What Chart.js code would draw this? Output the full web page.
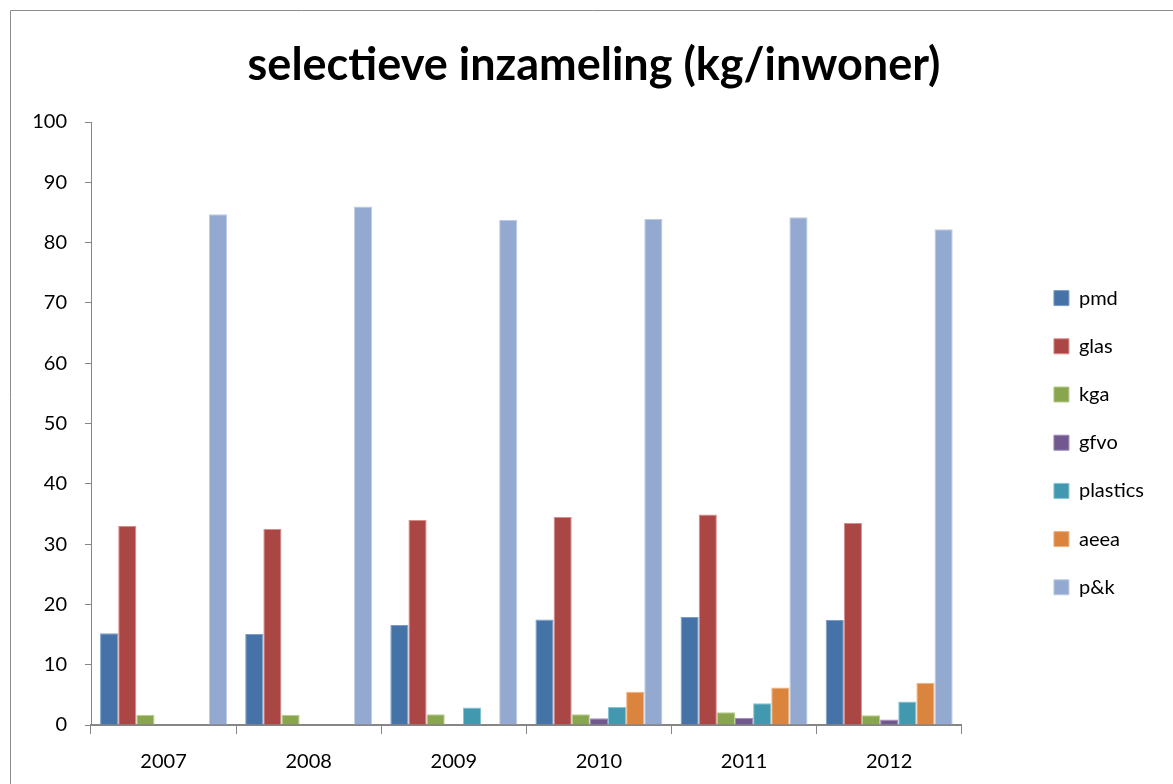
<!DOCTYPE html>
<html>
<head>
<meta charset="utf-8">
<title>selectieve inzameling</title>
<script src="https://cdn.jsdelivr.net/npm/chart.js@4"></script>
<style>
  html, body { margin: 0; padding: 0; background: #fff; }
  #wrap { width: 1173px; height: 784px; position: relative; }
</style>
</head>
<body>
<div id="wrap"><canvas id="chart"></canvas></div>
<script>
const years = ['2007', '2008', '2009', '2010', '2011', '2012'];
const pmd = [15.2, 15.1, 16.6, 17.5, 17.9, 17.4];
const glas = [33.0, 32.5, 34.0, 34.5, 34.9, 33.5];
const kga = [1.7, 1.7, 1.8, 1.8, 2.1, 1.6];
const gfvo = [null, null, null, 1.1, 1.2, 0.9];
const plastics = [null, null, 2.9, 3.0, 3.6, 3.9];
const aeea = [null, null, null, 5.5, 6.2, 7.0];
const pk = [84.7, 86.0, 83.8, 83.9, 84.2, 82.2];

const FONT = 'Lato, "Liberation Sans", sans-serif';
const axisGray = '#868686';

// white background + the outer chart frame
const framePlugin = {
    id: 'frame',
    beforeDraw(chart) {
        const ctx = chart.ctx;
        ctx.save();
        ctx.fillStyle = '#fff';
        ctx.fillRect(0, 0, chart.width, chart.height);
        ctx.strokeStyle = '#8c8c8c';
        ctx.lineWidth = 1;
        ctx.beginPath();
        ctx.moveTo(10.5, chart.height + 5);
        ctx.lineTo(10.5, 10.5);
        ctx.lineTo(chart.width + 5, 10.5);
        ctx.stroke();
        ctx.restore();
    }
};

function series(label, data, color, border) {
    return {
        label: label,
        data: data,
        backgroundColor: color,
        borderColor: border,
        borderWidth: 1,
        categoryPercentage: 0.875,
        barPercentage: 1
    };
}

new Chart(document.getElementById('chart'), {
    type: 'bar',
    data: {
        labels: years,
        datasets: [
            series('pmd', pmd, '#4572A7', '#7a9cc6'),
            series('glas', glas, '#AA4643', '#d88c89'),
            series('kga', kga, '#89A54E', '#b5cc8a'),
            series('gfvo', gfvo, '#71588F', '#9f8ab8'),
            series('plastics', plastics, '#4198AF', '#86c3d3'),
            series('aeea', aeea, '#DB843D', '#eeb07e'),
            series('p&k', pk, '#93A9CF', '#bccbe4')
        ]
    },
    options: {
        responsive: true,
        maintainAspectRatio: false,
        animation: false,
        layout: { padding: { left: 34, top: 10, right: 19, bottom: 0 } },
        plugins: {
            title: {
                display: true,
                text: 'selectieve inzameling (kg/inwoner)',
                color: '#000',
                font: { family: FONT, size: 45, weight: 'bold' },
                padding: { top: 28, bottom: 30 }
            },
            legend: {
                position: 'right',
                fullSize: false,
                title: { display: true, text: '', padding: { top: 0, bottom: 24 } },
                labels: {
                    boxWidth: 15,
                    boxHeight: 15,
                    padding: 28.2,
                    color: '#000',
                    font: { family: FONT, size: 20 }
                }
            },
            tooltip: { enabled: false }
        },
        scales: {
            x: {
                grid: {
                    offset: true,
                    drawOnChartArea: false,
                    drawTicks: true,
                    tickLength: 9,
                    color: axisGray
                },
                border: { display: true, color: axisGray, width: 2 },
                ticks: {
                    color: '#000',
                    padding: 16,
                    font: { family: FONT, size: 20 }
                },
                afterFit: s => { s.height = 59; }
            },
            y: {
                min: 0,
                max: 100,
                grid: {
                    drawOnChartArea: false,
                    drawTicks: true,
                    tickLength: 6,
                    color: axisGray
                },
                border: { display: true, color: axisGray, width: 1 },
                ticks: {
                    stepSize: 10,
                    color: '#000',
                    padding: 18,
                    font: { family: FONT, size: 20 }
                },
                afterFit: s => { s.width = 57; }
            },
            // empty spacer between plot and legend
            spacer: {
                type: 'linear',
                position: 'right',
                display: true,
                grid: { display: false },
                border: { display: false },
                ticks: { display: false },
                afterFit: s => { s.width = 64; }
            }
        }
    },
    plugins: [framePlugin]
});
</script>
</body>
</html>
